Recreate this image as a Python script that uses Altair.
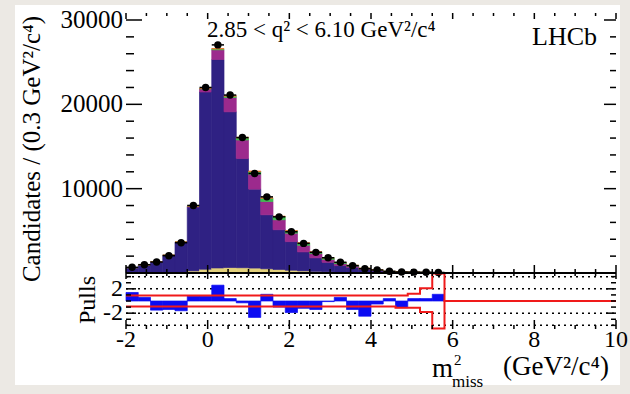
import altair as alt
import pandas as pd

# ---------------- data ----------------
bin_lo = [-2.0, -1.7, -1.4, -1.1, -0.8, -0.5, -0.2, 0.1, 0.4, 0.7, 1.0, 1.3, 1.6,
          1.9, 2.2, 2.5, 2.8, 3.1, 3.4, 3.7, 4.0, 4.3, 4.6, 4.9, 5.2, 5.5]
bin_hi = [-1.7, -1.4, -1.1, -0.8, -0.5, -0.2, 0.1, 0.4, 0.7, 1.0, 1.3, 1.6, 1.9,
          2.2, 2.5, 2.8, 3.1, 3.4, 3.7, 4.0, 4.3, 4.6, 4.9, 5.2, 5.5, 5.8]
data_counts = [675, 985, 1300, 2050, 3590, 8010, 22000, 27050, 21100, 16060, 11800,
               9030, 6660, 4890, 3510, 2450, 1810, 1270, 870, 510, 355, 200, 120,
               100, 80, 60]
fit_yellow = [0, 0, 0, 20, 80, 250, 450, 600, 650, 630, 580, 500, 420, 330, 250, 190,
              140, 100, 70, 50, 30, 20, 10, 5, 0, 0]
fit_navy = [639, 966, 1354, 2083, 3571, 7569, 21011, 24713, 18462, 12938, 9364, 6400,
            4712, 3388, 2251, 1604, 1124, 770, 586, 353, 232, 116, 86, 69, 60, 41]
fit_magenta = [0, 0, 0, 10, 30, 100, 360, 1150, 1700, 2200, 1770, 1575, 1180, 1000,
               780, 510, 350, 240, 160, 100, 60, 35, 20, 12, 8, 5]
fit_green = [0, 0, 0, 0, 5, 20, 40, 100, 150, 250, 300, 390, 390, 275, 280, 200, 190,
             130, 90, 60, 40, 22, 15, 10, 8, 6]
fit_orange = [0, 0, 0, 0, 0, 0, 20, 60, 80, 80, 80, 60, 40, 30, 20, 15, 10, 8, 5, 3,
              2, 1, 1, 0, 0, 0]
pulls = [1.4, 0.6, -1.5, -1.4, -1.6, 0.8, 0.8, 2.6, 0.4, -0.3, -2.7, 1.1, -1.0, -1.9,
         -1.2, -1.4, -0.1, 0.6, -1.4, -2.5, -0.5, 0.4, -1.1, 0.4, 0.4, 1.1]
band_x = bin_lo + [5.8, 10.0]
band_upper = [0.9] * 23 + [1.2, 2.1, 4.5, 0.0, 0.0]
band_lower = [-0.9] * 22 + [-1.1, -1.1, -1.8, -4.5, 0.0, 0.0]

x_tick_values = [-2, 0, 2, 4, 6, 8, 10]
x_tick_labels = ["-2", "0", "2", "4", "6", "8", "10"]
main_y_values = [10000, 20000, 30000]
main_y_labels = ["10000", "20000", "30000"]
pull_y_values = [-2, 2]
pull_y_labels = ["-2", "2"]
pull_dotted = [-4, -2, 2, 4]

comp_names = ["yellow", "navy", "magenta", "green", "orange"]
comp_colors = ["#E2D07C", "#2F2183", "#9C2A8D", "#3EBB4F", "#E8702A"]

# ---------------- layout ----------------
W = 490
MAIN_H = 260
PULL_H = 56
H = MAIN_H + PULL_H
MAIN_TOP = 30830
MAIN_LO = MAIN_TOP - MAIN_TOP * H / MAIN_H
PULL_LO, PULL_HI = -4.6, 4.6
PULL_TOP = PULL_LO + (PULL_HI - PULL_LO) * H / PULL_H
FONT = "Liberation Serif"

xsc = alt.Scale(domain=[-2, 10], nice=False, zero=False)
ymain = alt.Scale(domain=[MAIN_LO, MAIN_TOP], nice=False, zero=False)
ypull = alt.Scale(domain=[PULL_LO, PULL_TOP], nice=False, zero=False)

comp_arrays = [fit_yellow, fit_navy, fit_magenta, fit_green, fit_orange]
rows = []
for i in range(len(bin_lo)):
    for j, name in enumerate(comp_names):
        rows.append({"lo": bin_lo[i], "hi": bin_hi[i], "comp": name,
                     "val": comp_arrays[j][i], "ord": j})
comp_df = pd.DataFrame(rows)
pts_df = pd.DataFrame({"lo": bin_lo, "hi": bin_hi, "n": data_counts})
pull_df = pd.DataFrame({"lo": bin_lo, "hi": bin_hi, "p": pulls})
band_df = pd.DataFrame({
    "x": band_x + band_x,
    "v": band_upper + band_lower,
    "which": ["up"] * len(band_x) + ["down"] * len(band_x),
})

one = pd.DataFrame({"d": [0]})
comp_scale = alt.Scale(domain=comp_names, range=comp_colors)

layers = []

# white figure sheet
layers.append(alt.Chart(one).mark_rect(color="white").encode(
    x=alt.value(-111), x2=alt.value(494), y=alt.value(-8), y2=alt.value(372)))

# stacked fit components
layers.append(
    alt.Chart(comp_df)
    .transform_stack(stack="val", groupby=["lo", "hi"], as_=["y0", "y1"],
                     sort=[alt.SortField("ord", order="ascending")])
    .mark_bar(strokeWidth=0.7)
    .encode(
        x=alt.X("lo:Q", scale=xsc, axis=None),
        x2="hi:Q",
        y=alt.Y("y0:Q", scale=ymain, axis=None),
        y2="y1:Q",
        color=alt.Color("comp:N", scale=comp_scale, legend=None),
        stroke=alt.Stroke("comp:N", scale=comp_scale, legend=None),
    )
)

# data error bars and points
layers.append(
    alt.Chart(pts_df)
    .mark_rule(color="black", strokeWidth=1.5)
    .encode(x=alt.X("lo:Q", scale=xsc, axis=None), x2="hi:Q",
            y=alt.Y("n:Q", scale=ymain, axis=None))
)
layers.append(
    alt.Chart(pts_df)
    .transform_calculate(c="(datum.lo + datum.hi) / 2",
                         e1="datum.n - sqrt(datum.n)", e2="datum.n + sqrt(datum.n)")
    .mark_rule(color="black", strokeWidth=1.5)
    .encode(x=alt.X("c:Q", scale=xsc, axis=None),
            y=alt.Y("e1:Q", scale=ymain, axis=None), y2="e2:Q")
)
layers.append(
    alt.Chart(pts_df)
    .transform_calculate(c="(datum.lo + datum.hi) / 2")
    .mark_point(filled=True, color="black", size=55, opacity=1)
    .encode(x=alt.X("c:Q", scale=xsc, axis=None),
            y=alt.Y("n:Q", scale=ymain, axis=None))
)

# pulls panel
layers.append(
    alt.Chart(pd.DataFrame({"v": pull_dotted}))
    .mark_rule(color="black", strokeDash=[2, 4], strokeWidth=1.5)
    .encode(y=alt.Y("v:Q", scale=ypull, axis=None), x=alt.value(0), x2=alt.value(W))
)
layers.append(
    alt.Chart(pull_df)
    .mark_bar(color="#0B0BF2", stroke="#0B0BF2", strokeWidth=0.7)
    .encode(x=alt.X("lo:Q", scale=xsc, axis=None), x2="hi:Q",
            y=alt.Y("p:Q", scale=ypull, axis=None), y2=alt.datum(0))
)
layers.append(
    alt.Chart(band_df)
    .mark_line(interpolate="step-after", color="#F01A1A", strokeWidth=2)
    .encode(x=alt.X("x:Q", scale=xsc, axis=None),
            y=alt.Y("v:Q", scale=ypull, axis=None), detail="which:N")
)

# panel separator
layers.append(alt.Chart(one).mark_rule(color="black", strokeWidth=2).encode(
    x=alt.value(0), x2=alt.value(W), y=alt.value(MAIN_H)))

# ticks (ROOT style, inward)
x_minor = [v / 2 for v in range(-4, 21) if v % 4 != 0]
main_y_minor = [v for v in range(2000, 30001, 2000) if v % 10000 != 0]
main_y_major = [0] + main_y_values
pull_minor = [-4, -3, -1, 0, 1, 3, 4]


def xticks(vals, y0, y1):
    return alt.Chart(pd.DataFrame({"v": vals})).mark_rule(color="black", strokeWidth=1.5).encode(
        x=alt.X("v:Q", scale=xsc, axis=None), y=alt.value(y0), y2=alt.value(y1))


def yticks(vals, scale, x0, x1):
    return alt.Chart(pd.DataFrame({"v": vals})).mark_rule(color="black", strokeWidth=1.5).encode(
        y=alt.Y("v:Q", scale=scale, axis=None), x=alt.value(x0), x2=alt.value(x1))


layers += [
    xticks(x_tick_values, 0, 6), xticks(x_minor, 0, 3),
    xticks(x_tick_values, MAIN_H, MAIN_H - 8), xticks(x_minor, MAIN_H, MAIN_H - 4),
    xticks(x_tick_values, MAIN_H, MAIN_H + 6), xticks(x_minor, MAIN_H, MAIN_H + 3),
    xticks(x_tick_values, H, H - 9), xticks(x_minor, H, H - 4),
    yticks(main_y_major, ymain, 0, 16), yticks(main_y_minor, ymain, 0, 8),
    yticks(main_y_major, ymain, W, W - 12), yticks(main_y_minor, ymain, W, W - 6),
    yticks(pull_y_values, ypull, 0, 10), yticks(pull_minor, ypull, 0, 5),
    yticks(pull_y_values, ypull, W, W - 10), yticks(pull_minor, ypull, W, W - 5),
]

# tick labels
layers.append(
    alt.Chart(pd.DataFrame({"v": main_y_values, "t": main_y_labels}))
    .mark_text(font=FONT, fontSize=25, align="right", baseline="middle", color="black")
    .encode(y=alt.Y("v:Q", scale=ymain, axis=None), x=alt.value(-3), text="t:N")
)
layers.append(
    alt.Chart(pd.DataFrame({"v": pull_y_values, "t": pull_y_labels}))
    .mark_text(font=FONT, fontSize=24, align="right", baseline="middle", color="black")
    .encode(y=alt.Y("v:Q", scale=ypull, axis=None), x=alt.value(-3), text="t:N")
)
layers.append(
    alt.Chart(pd.DataFrame({"v": x_tick_values, "t": x_tick_labels}))
    .mark_text(font=FONT, fontSize=24, align="center", baseline="middle", color="black")
    .encode(x=alt.X("v:Q", scale=xsc, axis=None), y=alt.value(H + 11), text="t:N")
)


def label(text, x, y, size, angle=0, align="left", baseline="alphabetic"):
    return alt.Chart(pd.DataFrame({"t": [text]})).mark_text(
        font=FONT, fontSize=size, align=align, baseline=baseline, angle=angle,
        color="black").encode(x=alt.value(x), y=alt.value(y), text="t:N")


layers += [
    label("Candidates / (0.3 GeV\u00b2/c\u2074)", -94, 136, 25, angle=270,
          align="center", baseline="middle"),
    label("Pulls", -38, 287, 24, angle=270, align="center", baseline="middle"),
    label("2.85 < q\u00b2 < 6.10 GeV\u00b2/c\u2074", 81, 24, 23),
    label("LHCb", 406, 32, 26),
    label("m", 306, 364, 27),
    label("2", 328, 352, 15),
    label("miss", 326, 374, 17),
    label("(GeV\u00b2/c\u2074)", 377, 362, 27),
]

chart = (
    alt.layer(*layers)
    .resolve_scale(y="independent")
    .properties(
        width=W, height=H,
        autosize=alt.AutoSizeParams(type="none"),
        padding={"left": 126, "top": 13, "right": 14, "bottom": 65},
        background="#ECE9E4",
    )
    .configure_view(stroke="black", strokeWidth=2)
)

chart.save("out.html", embed_options={"renderer": "svg", "actions": False})
